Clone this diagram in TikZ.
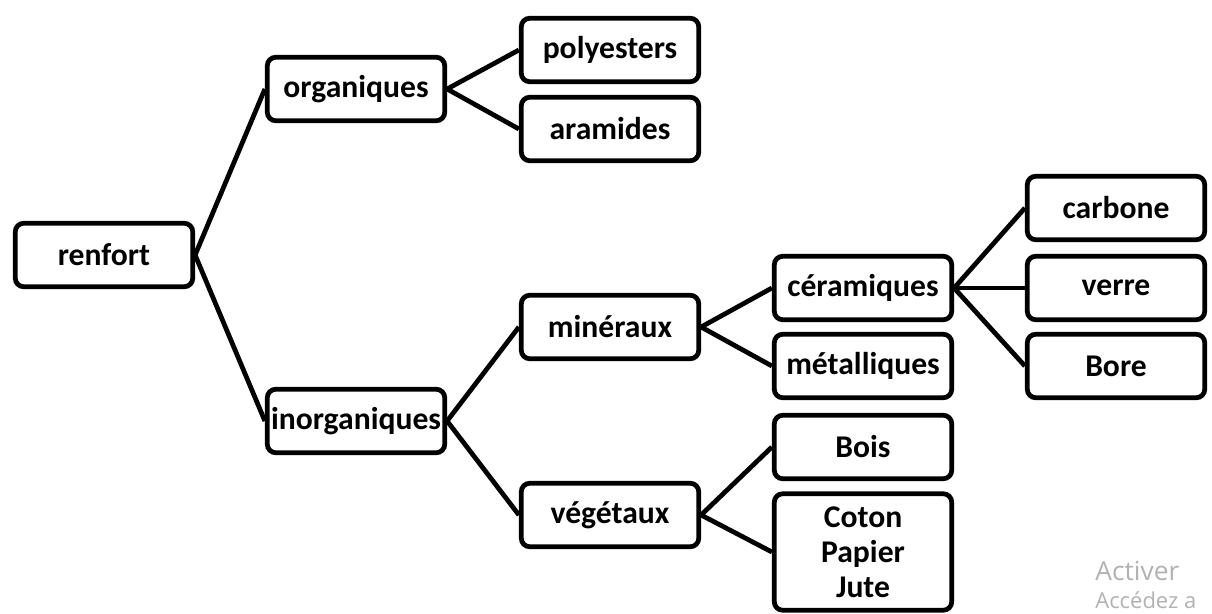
\documentclass[tikz,border=0pt]{standalone}
\usepackage{fontspec}
\setmainfont{Carlito}
\newfontfamily\wmfont{Open Sans}
\usepackage{tikz}

\tikzset{
    box/.style={draw, line width=0.095cm, rounded corners=0.17cm, minimum width=3.55cm,
        minimum height=1.27cm, inner sep=0pt, align=center,
        font=\fontsize{18}{20}\selectfont\bfseries},
    branch/.style={line width=0.095cm}
}

\begin{document}
\begin{tikzpicture}[x=0.02cm, y=-0.02cm]
    \useasboundingbox (0, 0) rectangle (1212, 614);

    \node[box] (renfort) at (104, 255) {renfort};
    \node[box] (organiques) at (356, 89) {organiques};
    \node[box] (inorganiques) at (356, 421) {inorganiques};
    \node[box] (polyesters) at (610, 50) {polyesters};
    \node[box] (aramides) at (610, 129) {aramides};
    \node[box] (mineraux) at (610, 327) {minéraux};
    \node[box] (vegetaux) at (610, 515) {végétaux};
    \node[box] (ceramiques) at (863, 288) {céramiques};
    \node[box] (metalliques) at (863, 366) {métalliques};
    \node[box] (bois) at (863, 447) {Bois};
    \node[box, minimum height=2.33cm] (coton) at (863, 552) {Coton\\Papier\\Jute};
    \node[box] (carbone) at (1116, 208) {carbone};
    \node[box] (verre) at (1116, 288) {verre};
    \node[box] (bore) at (1116, 366) {Bore};

    \draw[branch] (renfort.east) -- (organiques.west);
    \draw[branch] (renfort.east) -- (inorganiques.west);
    \draw[branch] (organiques.east) -- (polyesters.west);
    \draw[branch] (organiques.east) -- (aramides.west);
    \draw[branch] (inorganiques.east) -- (mineraux.west);
    \draw[branch] (inorganiques.east) -- (vegetaux.west);
    \draw[branch] (mineraux.east) -- (ceramiques.west);
    \draw[branch] (mineraux.east) -- (metalliques.west);
    \draw[branch] (vegetaux.east) -- (bois.west);
    \draw[branch] (vegetaux.east) -- (coton.west);
    \draw[branch] (ceramiques.east) -- (carbone.west);
    \draw[branch] (ceramiques.east) -- (verre.west);
    \draw[branch] (ceramiques.east) -- (bore.west);

    % watermark, only the part that is visible
    \node[anchor=base west, inner sep=0pt, text=black!30, font=\wmfont\fontsize{15}{17}\selectfont]
        (activer) at (1095, 580) {Activer};
    \node[anchor=base west, inner sep=0pt, text=black!30, font=\wmfont\fontsize{12.5}{14}\selectfont]
        (accedez) at (1095, 608) {Accédez a};
\end{tikzpicture}
\end{document}
